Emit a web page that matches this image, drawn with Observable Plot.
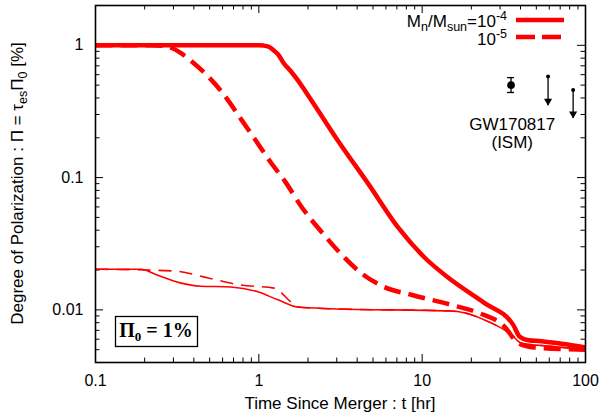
<!DOCTYPE html>
<html>
<head>
<meta charset="utf-8">
<script src="https://cdn.jsdelivr.net/npm/d3@7"></script>
<script src="https://cdn.jsdelivr.net/npm/@observablehq/plot@0.6"></script>
<style>
  html, body { margin: 0; padding: 0; background: #fff; }
  #chart { position: relative; width: 601px; height: 418px; }
  svg { font-family: "Liberation Sans", Arial, sans-serif; }
</style>
</head>
<body>
<div id="chart"></div>
<script>
// ---- Data ----
// Thick solid: Mn/Msun = 1e-4, Pi0 = 100%
const tThickSolid = [0.1, 0.5, 1.0, 1.07, 1.15, 1.24, 1.31, 1.42, 1.57, 1.73, 2.17, 3.05, 4.67, 7.12, 10.3, 15.1, 24.0, 36.1, 39.4, 44.7, 53.7, 100];
const pThickSolid = [1, 1, 1, 0.995, 0.975, 0.91, 0.855, 0.732, 0.637, 0.545, 0.36, 0.19, 0.090, 0.042, 0.025, 0.0168, 0.0113, 0.0077, 0.0063, 0.0059, 0.0058, 0.0052];
// Thick dashed: Mn/Msun = 1e-5, Pi0 = 100%
const tThickDash = [0.1, 0.22, 0.26, 0.296, 0.33, 0.40, 0.487, 0.60, 0.776, 0.96, 1.185, 1.46, 1.81, 2.58, 3.05, 4.23, 5.85, 8.57, 15.1, 22.1, 31.8, 38.8, 48.6, 100];
const pThickDash = [1, 1, 0.99, 0.95, 0.88, 0.732, 0.585, 0.436, 0.278, 0.19, 0.13, 0.092, 0.061, 0.0354, 0.028, 0.019, 0.0149, 0.013, 0.0109, 0.0095, 0.0075, 0.0056, 0.0052, 0.0050];
// Thin solid: Mn/Msun = 1e-4, Pi0 = 1%
const tThinSolid = [0.1, 0.189, 0.24, 0.33, 0.44, 0.673, 0.986, 1.31, 1.73, 2.77, 15.1, 18.1, 24.0, 35.2, 40.5, 61.9, 100];
const pThinSolid = [0.0203, 0.0203, 0.0183, 0.0160, 0.0151, 0.0149, 0.0137, 0.0119, 0.0105, 0.0102, 0.0098, 0.0095, 0.0084, 0.0065, 0.0056, 0.0053, 0.0050];
// Thin dashed: Mn/Msun = 1e-5, Pi0 = 1%
const tThinDash = [0.1, 0.30, 0.49, 0.776, 1.24, 1.57, 1.73, 2.77, 15.1, 18.1, 24.0, 35.2, 40.5, 61.9, 100];
const pThinDash = [0.0203, 0.0197, 0.0174, 0.0154, 0.0146, 0.0115, 0.0105, 0.0102, 0.0098, 0.0095, 0.0084, 0.0065, 0.0056, 0.0053, 0.0050];

// GW170817 (ISM) observations
const obsT = [35];
const obsP = [0.5];
const obsLo = [0.44];
const obsHi = [0.57];
const limT = [59, 84];
const limTop = [0.58, 0.46];
const limTip = [0.35, 0.28];
const obsLabels = ["GW170817", "(ISM)"];
const obsLabelT = [35.6, 35.6];
const obsLabelP = [0.25, 0.183];

// Axis ticks
const xTickLabels = [0.1, 1, 10, 100];
const xMajor = [1, 10];
const xMinor = [0.2, 0.3, 0.4, 0.5, 0.6, 0.7, 0.8, 0.9, 2, 3, 4, 5, 6, 7, 8, 9, 20, 30, 40, 50, 60, 70, 80, 90];
const yTickLabels = [0.01, 0.1, 1];
const yMajor = [0.01, 0.1, 1];
const yMinor = [0.005, 0.006, 0.007, 0.008, 0.009, 0.02, 0.03, 0.04, 0.05, 0.06, 0.07, 0.08, 0.09, 0.2, 0.3, 0.4, 0.5, 0.6, 0.7, 0.8, 0.9];

const series = [
  {t: tThickSolid, p: pThickSolid, w: 4.5, dash: null},
  {t: tThickDash, p: pThickDash, w: 4.5, dash: "17,8"},
  {t: tThinSolid, p: pThinSolid, w: 1.6, dash: null},
  {t: tThinDash, p: pThinDash, w: 1.6, dash: "13,8"}
];

const W = 601, H = 418, mL = 95, mR = 16, mT = 5, mB = 56;
const innerH = H - mT - mB, innerW = W - mL - mR;
const RED = "#ff0000";
const majorLen = 8, minorLen = 4.5;

const lineMarks = series.map(s =>
  Plot.line(s.t.map((t, i) => ({t, p: s.p[i]})), {
    x: "t", y: "p", stroke: RED, strokeWidth: s.w,
    strokeDasharray: s.dash, curve: "monotone-x", strokeLinecap: "butt"
  })
);

const obs = obsT.map((t, i) => ({t, p: obsP[i], lo: obsLo[i], hi: obsHi[i]}));
const lims = limT.map((t, i) => ({t, top: limTop[i], tip: limTip[i]}));
const labs = obsLabels.map((s, i) => ({s, t: obsLabelT[i], p: obsLabelP[i]}));

const chart = Plot.plot({
  width: W, height: H,
  marginLeft: mL, marginRight: mR, marginTop: mT, marginBottom: mB,
  style: {fontFamily: "Liberation Sans, Arial, sans-serif", fontSize: "16px", background: "white"},
  x: {type: "log", domain: [0.1, 100], ticks: xTickLabels, tickFormat: d => String(d), tickSize: 0, tickPadding: 12, label: null},
  y: {type: "log", domain: [0.004, 2], ticks: yTickLabels, tickFormat: d => String(d), tickSize: 0, tickPadding: 12, label: null},
  marks: [
    // inward ticks on all four sides
    Plot.ruleX(xMajor, {x: d => d, insetTop: innerH - majorLen, stroke: "black", strokeWidth: 1}),
    Plot.ruleX(xMinor, {x: d => d, insetTop: innerH - minorLen, stroke: "black", strokeWidth: 1}),
    Plot.ruleX(xMajor, {x: d => d, insetBottom: innerH - majorLen, stroke: "black", strokeWidth: 1}),
    Plot.ruleX(xMinor, {x: d => d, insetBottom: innerH - minorLen, stroke: "black", strokeWidth: 1}),
    Plot.ruleY(yMajor, {y: d => d, insetRight: innerW - majorLen, stroke: "black", strokeWidth: 1}),
    Plot.ruleY(yMinor, {y: d => d, insetRight: innerW - minorLen, stroke: "black", strokeWidth: 1}),
    Plot.ruleY(yMajor, {y: d => d, insetLeft: innerW - majorLen, stroke: "black", strokeWidth: 1}),
    Plot.ruleY(yMinor, {y: d => d, insetLeft: innerW - minorLen, stroke: "black", strokeWidth: 1}),
    ...lineMarks,
    // observation with error bar
    Plot.ruleX(obs, {x: "t", y1: "lo", y2: "hi", stroke: "black", strokeWidth: 1.3}),
    Plot.ruleY(obs, {y: "lo", x1: d => d.t / 1.05, x2: d => d.t * 1.05, stroke: "black", strokeWidth: 1.3}),
    Plot.ruleY(obs, {y: "hi", x1: d => d.t / 1.05, x2: d => d.t * 1.05, stroke: "black", strokeWidth: 1.3}),
    Plot.dot(obs, {x: "t", y: "p", r: 3.8, fill: "black"}),
    // upper limits
    Plot.ruleX(lims, {x: "t", y1: "top", y2: "tip", stroke: "black", strokeWidth: 1.3}),
    Plot.dot(lims, {x: "t", y: "top", r: 2, fill: "black"}),
    Plot.dot(lims, {x: "t", y: "tip", symbol: "triangle", rotate: 180, r: 3, fill: "black", dy: -4.5}),
    Plot.text(labs, {x: "t", y: "p", text: "s", fontSize: 17, fill: "black"}),
    Plot.frame({stroke: "black", strokeWidth: 1.6})
  ]
});

document.getElementById("chart").appendChild(chart);

const svg = d3.select(chart);
svg.selectAll("g[aria-label='x-axis tick label'] text, g[aria-label='y-axis tick label'] text").attr("fill", "black");

// axis titles
const yl = svg.append("text")
  .attr("transform", `translate(23, ${mT + innerH / 2}) rotate(-90)`)
  .attr("text-anchor", "middle").attr("font-size", 17).attr("fill", "black");
yl.append("tspan").text("Degree of Polarization : \u03A0 = \u03C4");
yl.append("tspan").attr("dy", 4).attr("font-size", 12.5).text("es");
yl.append("tspan").attr("dy", -4).text("\u03A0");
yl.append("tspan").attr("dy", 4).attr("font-size", 12.5).text("0");
yl.append("tspan").attr("dy", -4).text(" [%]");

svg.append("text")
  .attr("x", mL + innerW / 2).attr("y", 409)
  .attr("text-anchor", "middle").attr("font-size", 17).attr("fill", "black")
  .text("Time Since Merger : t [hr]");

// legend
const l1 = svg.append("text").attr("x", 507).attr("y", 27).attr("text-anchor", "end").attr("font-size", 17).attr("fill", "black");
l1.append("tspan").text("M");
l1.append("tspan").attr("dy", 4).attr("font-size", 12.5).text("n");
l1.append("tspan").attr("dy", -4).text("/M");
l1.append("tspan").attr("dy", 4).attr("font-size", 12.5).text("sun");
l1.append("tspan").attr("dy", -4).text("=10");
l1.append("tspan").attr("dy", -7).attr("font-size", 12.5).text("-4");
const l2 = svg.append("text").attr("x", 507).attr("y", 45).attr("text-anchor", "end").attr("font-size", 17).attr("fill", "black");
l2.append("tspan").text("10");
l2.append("tspan").attr("dy", -7).attr("font-size", 12.5).text("-5");
svg.append("line").attr("x1", 516).attr("x2", 564).attr("y1", 20).attr("y2", 20)
  .attr("stroke", RED).attr("stroke-width", 4.5);
svg.append("line").attr("x1", 516).attr("x2", 564).attr("y1", 37).attr("y2", 37)
  .attr("stroke", RED).attr("stroke-width", 4.5).attr("stroke-dasharray", "19,7");

// Pi0 box
svg.append("rect").attr("x", 115.5).attr("y", 316.5).attr("width", 82).attr("height", 30)
  .attr("fill", "white").attr("stroke", "black").attr("stroke-width", 1.3);
const bt = svg.append("text").attr("x", 156).attr("y", 337).attr("text-anchor", "middle")
  .attr("font-family", "Liberation Serif, Times New Roman, serif").attr("font-weight", "bold")
  .attr("font-size", 20).attr("fill", "black");
bt.append("tspan").text("\u03A0");
bt.append("tspan").attr("dy", 4).attr("font-size", 13).text("0");
bt.append("tspan").attr("dy", -4).text(" = 1%");
</script>
</body>
</html>
